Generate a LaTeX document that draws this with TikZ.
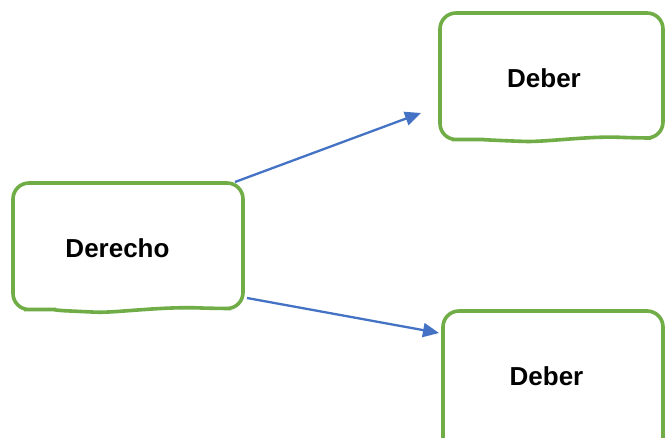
\documentclass[tikz,border=0pt]{standalone}
\usepackage{fontspec}
\setmainfont{Liberation Sans}
\usetikzlibrary{arrows.meta}
\definecolor{boxgreen}{HTML}{70AD47}
\definecolor{arrowblue}{HTML}{4472C4}
\tikzset{
  box/.style={draw=boxgreen, line width=3.6pt, rounded corners=16pt, fill=white},
  lbl/.style={font=\fontsize{26}{30}\selectfont\bfseries, inner sep=0pt},
  conn/.style={draw=arrowblue, line width=2.3pt, -{Triangle[length=16pt,width=14pt]}}
}
\begin{document}
\begin{tikzpicture}[x=1pt,y=-1pt]
\useasboundingbox (0,0) rectangle (665,438);
\clip (0,0) rectangle (665,438);
\fill[white] (0,0) rectangle (665,438);
% Derecho box
\draw[box] (13,245) -- (13,183) -- (243,183) -- (243,308.5) -- (215,308.5)
  .. controls (160,306.5) and (115,313) .. (80,311.5)
  .. controls (60,310.5) and (50,309.5) .. (40,309.5) -- (13,309.5) -- cycle;
% top Deber box
\draw[box] (440,80) -- (440,13) -- (663,13) -- (663,138) -- (635,138)
  .. controls (590,136) and (545,142) .. (510,141)
  .. controls (490,140) and (478,139.5) .. (468,139.5) -- (440,139.5) -- cycle;
% bottom Deber box
\draw[box] (443,380) -- (443,311) -- (663,311) -- (663,470) -- (443,470) -- cycle;
\node[lbl] (derecho) at (117.5,248) {Derecho};
\node[lbl] (deber1) at (544,78) {Deber};
\node[lbl] (deber2) at (546.5,376) {Deber};
\coordinate (s1) at (235,182);
\coordinate (e1) at (421,113);
\coordinate (s2) at (247,298);
\coordinate (e2) at (439,333);
\draw[conn] (s1) -- (e1);
\draw[conn] (s2) -- (e2);
\end{tikzpicture}
\end{document}
